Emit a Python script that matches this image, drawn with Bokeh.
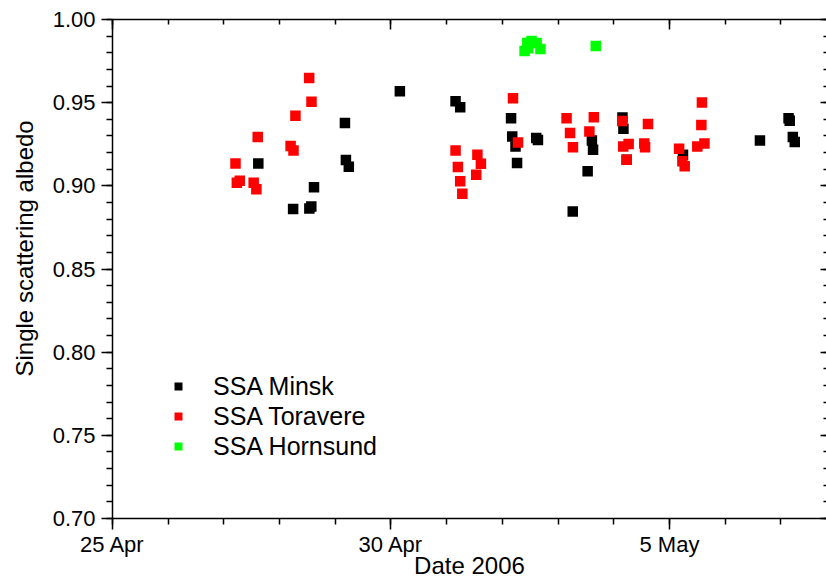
import pandas as pd
from bokeh.plotting import figure
from bokeh.models import (Range1d, FixedTicker, LinearAxis, Legend, LegendItem, Title,
                          PrintfTickFormatter, CustomJSTickFormatter)
from bokeh.embed import file_html
from bokeh.resources import INLINE

# ---------------- data ----------------
minsk_time = [
    "2006-04-27 14:50", "2006-04-28 05:50", "2006-04-28 12:50", "2006-04-28 13:40",
    "2006-04-28 14:50", "2006-04-29 04:10", "2006-04-29 04:35", "2006-04-29 05:50",
    "2006-04-30 03:50", "2006-05-01 03:50", "2006-05-01 05:50", "2006-05-02 03:45",
    "2006-05-02 04:15", "2006-05-02 05:40", "2006-05-02 06:20", "2006-05-02 14:35",
    "2006-05-02 15:20", "2006-05-03 06:20", "2006-05-03 12:45", "2006-05-03 14:35",
    "2006-05-03 15:05", "2006-05-04 03:45", "2006-05-04 04:10", "2006-05-04 05:35",
    "2006-05-05 05:50", "2006-05-06 15:00", "2006-05-07 03:20", "2006-05-07 03:50",
    "2006-05-07 05:10", "2006-05-07 06:00",
]
minsk_ssa = [
    0.9135, 0.8860, 0.8864, 0.8876, 0.8991, 0.9378, 0.9155, 0.9115,
    0.9569, 0.9508, 0.9472, 0.9406, 0.9296, 0.9236, 0.9137, 0.9287,
    0.9276, 0.8846, 0.9087, 0.9272, 0.9217, 0.9411, 0.9343, 0.9157,
    0.9187, 0.9272, 0.9406, 0.9392, 0.9293, 0.9263,
]

toravere_time = [
    "2006-04-27 05:00", "2006-04-27 05:35", "2006-04-27 06:50", "2006-04-27 12:50",
    "2006-04-27 14:00", "2006-04-27 14:35", "2006-04-28 04:45", "2006-04-28 06:00",
    "2006-04-28 06:50", "2006-04-28 12:45", "2006-04-28 13:45", "2006-05-01 03:50",
    "2006-05-01 04:50", "2006-05-01 05:50", "2006-05-01 06:45", "2006-05-01 12:45",
    "2006-05-01 13:15", "2006-05-01 14:45", "2006-05-02 04:35", "2006-05-02 06:45",
    "2006-05-03 03:40", "2006-05-03 05:10", "2006-05-03 06:25", "2006-05-03 13:30",
    "2006-05-03 15:25", "2006-05-04 03:40", "2006-05-04 04:05", "2006-05-04 05:35",
    "2006-05-04 06:25", "2006-05-04 13:10", "2006-05-04 13:30", "2006-05-04 14:45",
    "2006-05-05 04:10", "2006-05-05 05:35", "2006-05-05 06:35", "2006-05-05 12:00",
    "2006-05-05 13:45", "2006-05-05 14:00", "2006-05-05 15:05",
]
toravere_ssa = [
    0.9135, 0.9019, 0.9031, 0.9019, 0.8979, 0.9293, 0.9239, 0.9212,
    0.9422, 0.9649, 0.9505, 0.9212, 0.9113, 0.9027, 0.8953, 0.9067,
    0.9187, 0.9133, 0.9526, 0.9260, 0.9406, 0.9318, 0.9232, 0.9327,
    0.9412, 0.9390, 0.9236, 0.9157, 0.9251, 0.9255, 0.9232, 0.9372,
    0.9223, 0.9148, 0.9117, 0.9236, 0.9366, 0.9501, 0.9255,
]

hornsund_time = [
    "2006-05-02 09:35", "2006-05-02 10:45", "2006-05-02 11:10", "2006-05-02 12:35",
    "2006-05-02 14:45", "2006-05-02 16:25", "2006-05-03 16:15",
]
hornsund_ssa = [0.9810, 0.9858, 0.9827, 0.9870, 0.9858, 0.9822, 0.9840]

x_tick_dates = ["2006-04-25", "2006-04-30", "2006-05-05"]
x_tick_labels = ["25 Apr", "30 Apr", "5 May"]
y_ticks = [0.70, 0.75, 0.80, 0.85, 0.90, 0.95, 1.00]

series_names = ["SSA Minsk", "SSA Toravere", "SSA Hornsund"]
series_colors = ["#000000", "#ff0000", "#00ff00"]

x_title = "Date 2006"
y_title = "Single scattering albedo"

# ---------------- helpers ----------------
START = pd.Timestamp("2006-04-25")


def days(ts):
    return list((pd.to_datetime(pd.Series(ts)) - START) / pd.Timedelta(days=1))


FONT = "Liberation Sans"
X_END = 12.82

p = figure(width=826, height=581, output_backend="svg", toolbar_location=None,
           x_range=Range1d(0, X_END), y_range=Range1d(0.70, 1.00),
           min_border_left=108, min_border_right=0, min_border_top=19,
           min_border_bottom=60, background_fill_color="white",
           border_fill_color="white")
p.xgrid.visible = False
p.ygrid.visible = False
p.outline_line_color = None

xt = days(x_tick_dates)
x_minor = list(range(0, 14))
x_ticker = FixedTicker(ticks=xt, minor_ticks=x_minor)
y_minor = [round(0.70 + 0.01 * i, 2) for i in range(31)]
y_ticker = FixedTicker(ticks=y_ticks, minor_ticks=y_minor)


def style_axis(ax):
    ax.axis_line_width = 1.5
    ax.axis_line_color = "black"
    ax.major_tick_line_width = 1.5
    ax.minor_tick_line_width = 1.5
    ax.major_tick_line_color = "black"
    ax.minor_tick_line_color = "black"
    ax.major_label_text_font = FONT
    ax.major_label_text_font_size = "22px"
    ax.major_label_text_color = "black"
    ax.axis_label_text_font = FONT
    ax.axis_label_text_font_size = "24px"
    ax.axis_label_text_font_style = "normal"
    ax.axis_label_text_color = "black"


xa = p.xaxis[0]
xa.ticker = x_ticker
xa.major_label_overrides = {int(round(v)): lab for v, lab in zip(xt, x_tick_labels)}
style_axis(xa)
xa.major_tick_out = 11
xa.major_tick_in = 0
xa.minor_tick_out = 6
xa.minor_tick_in = 0
xa.major_label_standoff = 2
xa.axis_label = x_title
xa.axis_label_standoff = -8

ya = p.yaxis[0]
ya.ticker = y_ticker
ya.formatter = PrintfTickFormatter(format="%.2f")
style_axis(ya)
ya.major_tick_out = 11
ya.major_tick_in = 0
ya.minor_tick_out = 6
ya.minor_tick_in = 0
ya.major_label_standoff = 6

empty = CustomJSTickFormatter(code="return ''")
top = LinearAxis(ticker=x_ticker, formatter=empty)
style_axis(top)
top.major_tick_in = 10
top.major_tick_out = 0
top.minor_tick_in = 5
top.minor_tick_out = 0
top.major_label_standoff = 0
p.add_layout(top, "above")

right = LinearAxis(ticker=y_ticker, formatter=empty)
style_axis(right)
right.axis_line_color = None
right.major_tick_in = 6
right.major_tick_out = 0
right.minor_tick_in = 3
right.minor_tick_out = 0
right.major_label_standoff = 0
p.add_layout(right, "right")

p.add_layout(Title(text=y_title, align="left", offset=142, standoff=20,
                   vertical_align="top",
                   text_font=FONT, text_font_size="24px", text_font_style="normal",
                   text_color="black"), "left")

renderers = []
for t, v, c in zip([minsk_time, toravere_time, hornsund_time],
                   [minsk_ssa, toravere_ssa, hornsund_ssa], series_colors):
    r = p.scatter(days(t), v, marker="square", size=10.5, fill_color=c, line_color=None)
    renderers.append(r)

legend = Legend(items=[LegendItem(label=n, renderers=[r]) for n, r in zip(series_names, renderers)],
                location=(56, 57), border_line_color=None, background_fill_alpha=0,
                padding=0, spacing=0, margin=0, glyph_width=20, glyph_height=30,
                label_height=30, label_standoff=25, label_text_font=FONT,
                label_text_font_size="25px", label_text_color="black")
p.add_layout(legend, "center")

open("out.html", "w").write(file_html(p, INLINE))
